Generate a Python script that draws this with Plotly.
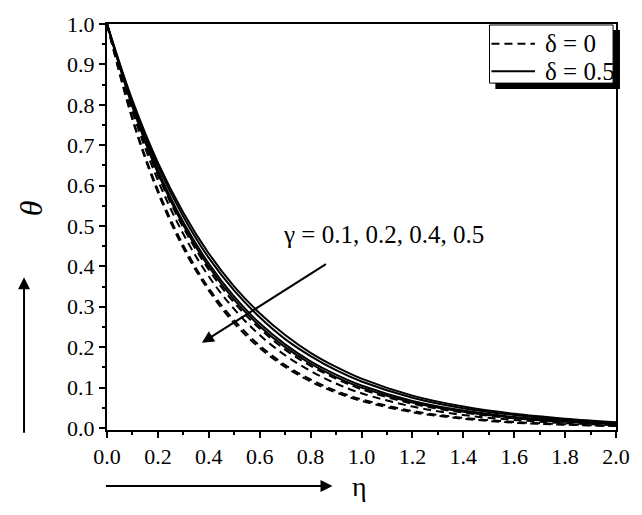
import plotly.graph_objects as go

eta = [0.0, 0.1, 0.2, 0.3, 0.4, 0.5, 0.6, 0.7, 0.8, 0.9, 1.0, 1.2, 1.4, 1.6, 1.8, 2.0]

# delta = 0.5 (solid), gamma = 0.1, 0.2, 0.4, 0.5
theta_d05_g01 = [1.0, 0.811, 0.657, 0.533, 0.432, 0.350, 0.284, 0.230, 0.186, 0.151, 0.122, 0.080, 0.053, 0.035, 0.023, 0.014]
theta_d05_g02 = [1.0, 0.806, 0.649, 0.523, 0.421, 0.340, 0.274, 0.220, 0.178, 0.143, 0.115, 0.075, 0.049, 0.032, 0.020, 0.013]
theta_d05_g04 = [1.0, 0.799, 0.638, 0.509, 0.407, 0.325, 0.259, 0.207, 0.165, 0.132, 0.105, 0.067, 0.043, 0.027, 0.017, 0.011]
theta_d05_g05 = [1.0, 0.795, 0.631, 0.502, 0.399, 0.317, 0.252, 0.200, 0.159, 0.126, 0.100, 0.063, 0.040, 0.025, 0.016, 0.010]

# delta = 0 (dashed), gamma = 0.1, 0.2, 0.4, 0.5
theta_d0_g01 = [1.0, 0.791, 0.626, 0.496, 0.392, 0.310, 0.246, 0.194, 0.154, 0.122, 0.096, 0.060, 0.038, 0.024, 0.015, 0.009]
theta_d0_g02 = [1.0, 0.783, 0.613, 0.480, 0.375, 0.294, 0.230, 0.180, 0.141, 0.110, 0.086, 0.053, 0.032, 0.020, 0.012, 0.007]
theta_d0_g04 = [1.0, 0.767, 0.589, 0.452, 0.346, 0.266, 0.204, 0.156, 0.120, 0.092, 0.071, 0.042, 0.025, 0.015, 0.009, 0.005]
theta_d0_g05 = [1.0, 0.763, 0.583, 0.445, 0.340, 0.259, 0.198, 0.151, 0.115, 0.088, 0.067, 0.039, 0.023, 0.013, 0.008, 0.005]

x_ticks = [0.0, 0.2, 0.4, 0.6, 0.8, 1.0, 1.2, 1.4, 1.6, 1.8, 2.0]
y_ticks = [0.0, 0.1, 0.2, 0.3, 0.4, 0.5, 0.6, 0.7, 0.8, 0.9, 1.0]

legend_labels = ["δ = 0", "δ = 0.5"]
gamma_label = "γ = 0.1, 0.2, 0.4, 0.5"

FONT = "Liberation Serif, Times New Roman, Times, serif"
DASH = "8px,5px"

fig = go.Figure()

dashed = [theta_d0_g01, theta_d0_g02, theta_d0_g04, theta_d0_g05]
solid = [theta_d05_g01, theta_d05_g02, theta_d05_g04, theta_d05_g05]

for ys in dashed:
    fig.add_trace(go.Scatter(x=eta, y=ys, mode="lines", line_shape="spline",
                             line=dict(color="black", width=2, dash=DASH),
                             name=legend_labels[0], showlegend=False))
for ys in solid:
    fig.add_trace(go.Scatter(x=eta, y=ys, mode="lines", line_shape="spline",
                             line=dict(color="black", width=2),
                             name=legend_labels[1], showlegend=False))

axis_common = dict(showline=True, linecolor="black", linewidth=2, mirror=True,
                   ticks="outside", ticklen=6, tickwidth=2, tickcolor="black",
                   showgrid=False, zeroline=False,
                   tickfont=dict(family=FONT, size=22, color="black"))

fig.update_xaxes(range=[0, 2.0], tickvals=x_ticks, ticktext=[f"{v:.1f}" for v in x_ticks],
                 minor=dict(ticks="outside", ticklen=3, tickwidth=2, tickcolor="black", dtick=0.1, tick0=0),
                 **axis_common)
fig.update_yaxes(range=[-0.005, 1.0], tickvals=y_ticks, ticktext=[f"{v:.1f}" for v in y_ticks],
                 minor=dict(ticks="outside", ticklen=3, tickwidth=2, tickcolor="black", dtick=0.05, tick0=0),
                 **axis_common)

# manual legend (box with drop shadow)
shapes = [
    dict(type="rect", xref="paper", yref="paper", x0=0.763, x1=1.0078, y0=0.8398, y1=0.9854,
         fillcolor="black", line=dict(width=0), layer="above"),
    dict(type="rect", xref="paper", yref="paper", x0=0.7515, x1=0.9942, y0=0.8544, y1=0.9976,
         fillcolor="white", line=dict(color="black", width=1), layer="above"),
    dict(type="line", xref="paper", yref="paper", x0=0.7553, x1=0.8408, y0=0.9515, y1=0.9515,
         line=dict(color="black", width=2, dash=DASH), layer="above"),
    dict(type="line", xref="paper", yref="paper", x0=0.7553, x1=0.8408, y0=0.8835, y1=0.8835,
         line=dict(color="black", width=2), layer="above"),
]

fig.update_layout(
    width=642, height=515,
    margin=dict(l=107, r=20, t=18, b=85),
    plot_bgcolor="white", paper_bgcolor="white",
    font=dict(family=FONT, size=22, color="black"),
    showlegend=False,
    shapes=shapes,
    annotations=[
        dict(text=legend_labels[0], x=0.8563, y=0.9515, xref="paper", yref="paper",
             showarrow=False, xanchor="left", yanchor="middle", font=dict(family=FONT, size=25)),
        dict(text=legend_labels[1], x=0.8563, y=0.8835, xref="paper", yref="paper",
             showarrow=False, xanchor="left", yanchor="middle", font=dict(family=FONT, size=25)),
        dict(text=gamma_label, x=0.683, y=0.48, xref="x", yref="y",
             showarrow=False, xanchor="left", yanchor="middle", font=dict(family=FONT, size=25)),
        dict(x=0.373, y=0.211, ax=0.866, ay=0.408, xref="x", yref="y", axref="x", ayref="y",
             text="", showarrow=True, arrowhead=2, arrowsize=1.2, arrowwidth=2, arrowcolor="black"),
        dict(x=-0.163, y=0.376, xref="paper", yref="paper", ax=0, ay=157,
             text="", showarrow=True, arrowhead=2, arrowsize=1.2, arrowwidth=2, arrowcolor="black"),
        dict(text="<i>θ</i>", x=-0.1495, y=0.546, xref="paper", yref="paper", showarrow=False,
             xanchor="center", yanchor="middle", textangle=-90, font=dict(family=FONT, size=32)),
        dict(x=0.443, y=-0.138, xref="paper", yref="paper", ax=-228, ay=0,
             text="", showarrow=True, arrowhead=2, arrowsize=1.2, arrowwidth=2, arrowcolor="black"),
        dict(text="η", x=0.497, y=-0.138, xref="paper", yref="paper", showarrow=False,
             xanchor="center", yanchor="middle", font=dict(family=FONT, size=28)),
    ],
)

fig.write_html("out.html")
